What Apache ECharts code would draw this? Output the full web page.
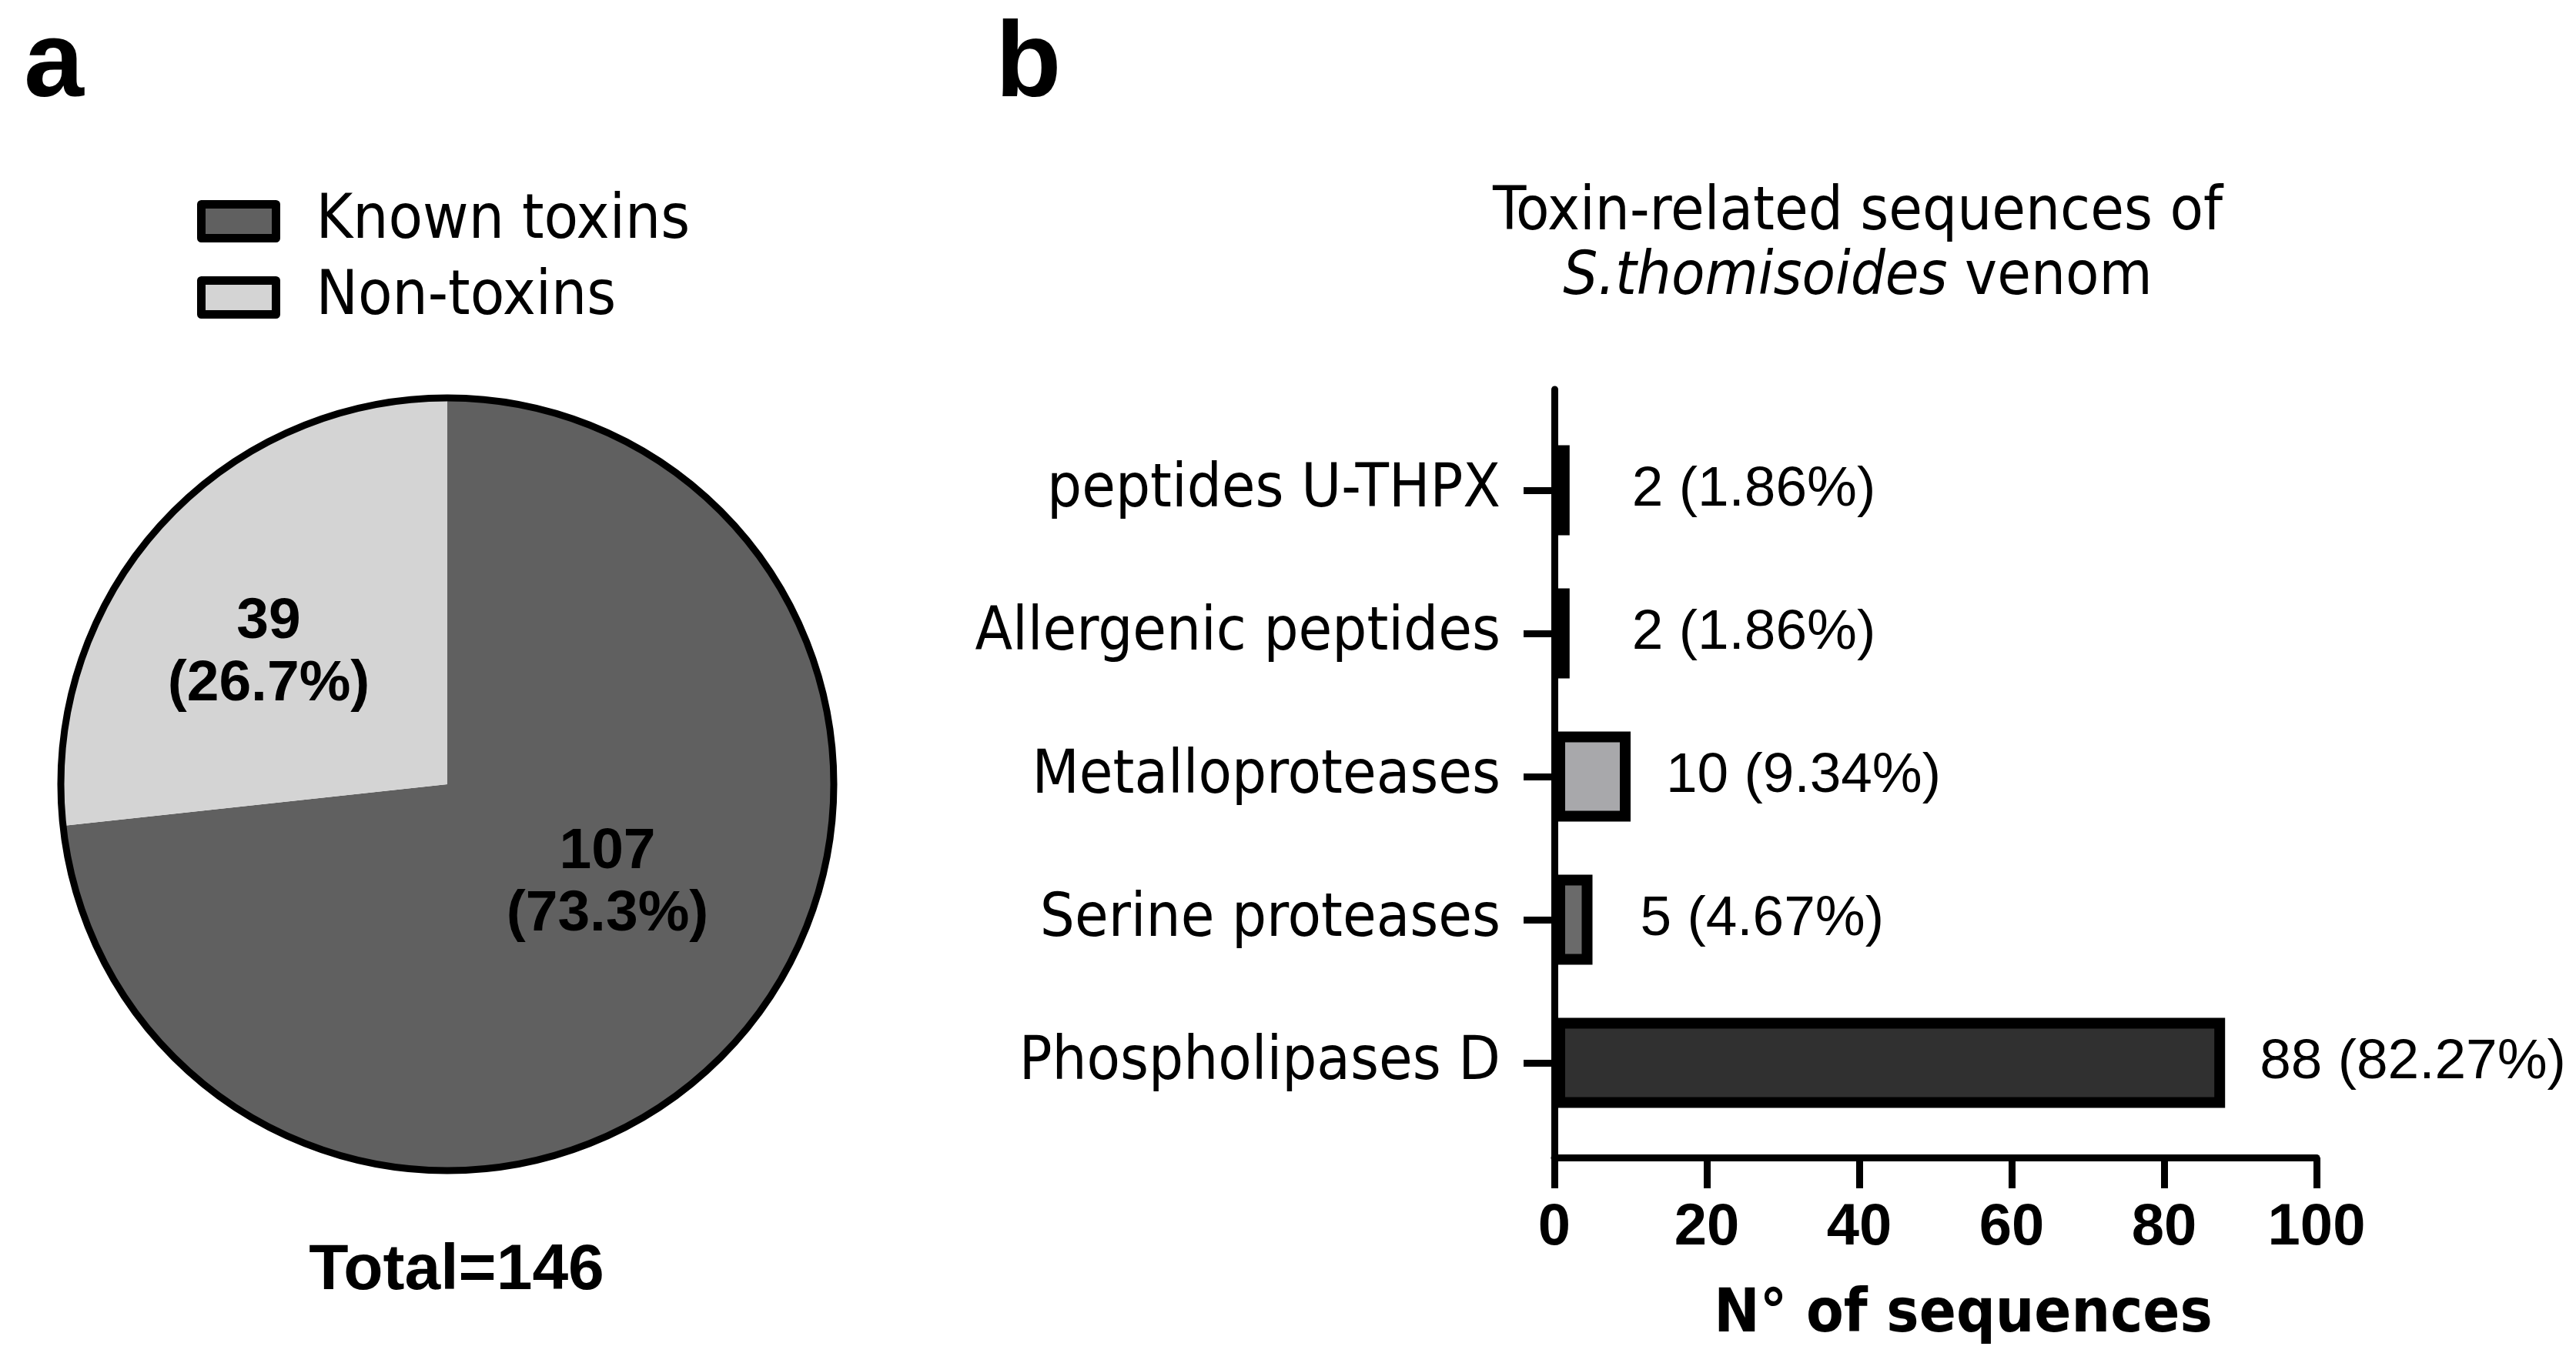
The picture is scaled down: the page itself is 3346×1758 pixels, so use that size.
<!DOCTYPE html>
<html>
<head>
<meta charset="utf-8">
<script src="https://cdn.jsdelivr.net/npm/echarts@6/dist/echarts.min.js"></script>
<style>
  html, body { margin: 0; padding: 0; background: #fff; }
  #chart { width: 3346px; height: 1758px; }
</style>
</head>
<body>
<div id="chart"></div>
<script>
// ---- data ----
const pieNames = ['Known toxins', 'Non-toxins'];
const pieValues = [107, 39];

const barCategories = ['Phospholipases D', 'Serine proteases', 'Metalloproteases', 'Allergenic peptides', 'peptides U-THPX'];
const barValues = [88, 5, 10, 2, 2];
const barPercents = ['82.27', '4.67', '9.34', '1.86', '1.86'];

const xMin = 0, xMax = 100, xStep = 20;

// ---- styles ----
const pieColors = ['#606060', '#d4d4d4'];
const pieLabelPadding = [[0, 0, 0, 38], [0, 86, 0, 0]];
const pieLabelFormats = ['{c}\n({d}%)\n', '{c}\n({d}%)'];
const barColors = ['#303030', '#6a6a6a', '#a8a8ab', '#000000', '#000000'];
const labelGaps = [45, 62, 46, 81, 81];
const COND = "'DejaVu Sans Condensed', 'DejaVu Sans', sans-serif";
const ARIAL = "'Liberation Sans', Arial, sans-serif";

const total = pieValues.reduce((a, b) => a + b, 0);

const chart = echarts.init(document.getElementById('chart'), null, { renderer: 'canvas' });

const option = {
  backgroundColor: '#ffffff',
  animation: false,
  title: [
    { text: 'a', left: 26, top: 11, textStyle: { fontFamily: ARIAL, fontWeight: 'bold', fontSize: 140, color: '#000' } },
    { text: 'b', left: 1288, top: 11, textStyle: { fontFamily: ARIAL, fontWeight: 'bold', fontSize: 140, color: '#000' } },
    { text: 'Total=' + total, left: 588, top: 1605, textAlign: 'center',
      textStyle: { fontFamily: ARIAL, fontWeight: 'bold', fontSize: 84, color: '#000' } },
    { text: 'Toxin-related sequences of\n{i|S.thomisoides} venom', left: 2408, top: 230, textAlign: 'center',
      textStyle: { fontFamily: COND, fontWeight: 'normal', fontSize: 79, lineHeight: 84, color: '#000',
        rich: { i: { fontFamily: COND, fontStyle: 'italic', fontSize: 79, lineHeight: 84, color: '#000' } } } }
  ],
  legend: {
    data: pieNames,
    orient: 'vertical',
    left: 251,
    top: 242,
    icon: 'rect',
    itemWidth: 97,
    itemHeight: 44,
    itemGap: 18,
    selectedMode: false,
    itemStyle: { borderColor: '#000', borderWidth: 11 },
    textStyle: { fontFamily: COND, fontSize: 81, lineHeight: 80, color: '#000', padding: [0, 0, 0, 47] }
  },
  grid: [
    { left: 2019, right: 337, top: 544, bottom: 284, outerBoundsMode: 'none', containLabel: false },
    { left: 2019, right: 337, top: 506, bottom: 254, outerBoundsMode: 'none', containLabel: false }
  ],
  xAxis: [
    { gridIndex: 0, type: 'value', min: xMin, max: xMax, show: false },
    { gridIndex: 1, type: 'value', min: xMin, max: xMax, interval: xStep,
      axisLine: { show: true, onZero: false, lineStyle: { color: '#000', width: 9 } },
      axisTick: { show: true, length: 40, lineStyle: { color: '#000', width: 9 } },
      splitLine: { show: false },
      axisLabel: { margin: 54, fontFamily: ARIAL, fontWeight: 'bold', fontSize: 76, color: '#000' },
      name: 'N° of sequences', nameLocation: 'middle', nameGap: 166,
      nameTextStyle: { fontFamily: COND, fontWeight: 'bold', fontSize: 79, color: '#000', padding: [0, 0, 0, 72] }
    }
  ],
  yAxis: [
    { gridIndex: 0, type: 'category', data: barCategories,
      axisLine: { show: false },
      axisTick: { show: true, alignWithLabel: true, length: 40, lineStyle: { color: '#000', width: 9 } },
      axisLabel: { margin: 70, fontFamily: COND, fontSize: 79, color: '#000' },
      splitLine: { show: false }
    },
    { gridIndex: 1, type: 'value', min: 0, max: 1,
      axisLine: { show: true, onZero: false, lineStyle: { color: '#000', width: 9 } },
      axisTick: { show: false }, axisLabel: { show: false }, splitLine: { show: false }
    }
  ],
  series: [
    {
      type: 'pie',
      center: [581, 1019],
      radius: [0, 502],
      startAngle: 90,
      clockwise: true,
      percentPrecision: 1,
      silent: true,
      emphasis: { disabled: true },
      itemStyle: { borderWidth: 0 },
      label: {
        show: true, position: 'inside',
        fontFamily: ARIAL, fontWeight: 'bold', fontSize: 75, lineHeight: 81, color: '#000'
      },
      labelLine: { show: false },
      data: pieNames.map((n, i) => ({
        name: n, value: pieValues[i],
        itemStyle: { color: pieColors[i] },
        label: { padding: pieLabelPadding[i], formatter: pieLabelFormats[i] }
      }))
    },
    {
      type: 'pie',
      center: [581, 1019],
      radius: [0, 502],
      silent: true,
      z: 5,
      emphasis: { disabled: true },
      label: { show: false }, labelLine: { show: false },
      itemStyle: { color: 'rgba(0,0,0,0)', borderColor: '#000', borderWidth: 9 },
      data: [{ name: 'outline', value: total }]
    },
    {
      type: 'bar',
      xAxisIndex: 0, yAxisIndex: 0,
      barWidth: 117,
      silent: true,
      data: barValues.map((v, i) => ({
        value: v,
        itemStyle: { color: barColors[i], borderColor: '#000', borderWidth: 14 },
        label: { distance: labelGaps[i] }
      })),
      label: {
        show: true, position: 'right',
        formatter: (p) => barValues[p.dataIndex] + ' (' + barPercents[p.dataIndex] + '%)',
        fontFamily: ARIAL, fontSize: 73, color: '#000'
      }
    }
  ]
};

chart.setOption(option);
</script>
</body>
</html>
